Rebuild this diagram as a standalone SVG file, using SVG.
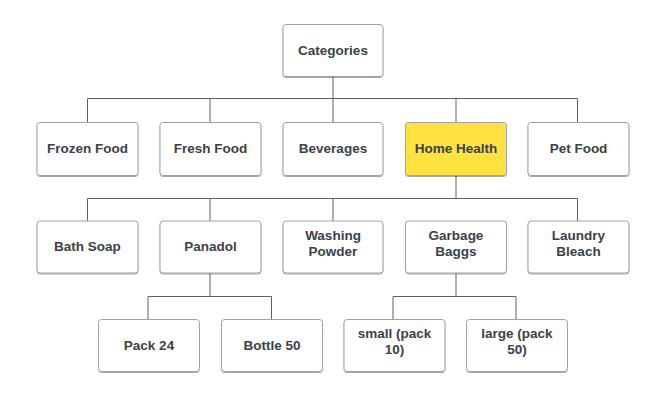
<svg xmlns="http://www.w3.org/2000/svg" width="667" height="405" viewBox="0 0 667 405">
<defs>
<filter id="sh" x="-10%" y="-10%" width="120%" height="130%">
<feDropShadow dx="0" dy="1" stdDeviation="0.6" flood-color="#000" flood-opacity="0.35"/>
</filter>
<style>
.box{fill:#ffffff;stroke:#9fa3a9;stroke-width:1;filter:url(#sh)}
.hl{fill:#ffe13f}
.t{font-family:"Liberation Sans",Arial,sans-serif;font-weight:bold;font-size:13.5px;fill:#3a414a;text-anchor:middle}
.c{fill:none;stroke:#5f6166;stroke-width:1}
</style>
</defs>
<rect width="667" height="405" fill="#ffffff"/>
<g id="connectors">
<path class="c" d="M333 77V98.5M87.5 98.5H577.5M87.5 98.5V123M210 98.5V123M333 98.5V123M456 98.5V123M577.5 98.5V123"/>
<path class="c" d="M456 175V198.5M87.5 198.5H577.5M87.5 198.5V221M210 198.5V221M333 198.5V221M577.5 198.5V221"/>
<path class="c" d="M210 273V296.5M148 296.5H271.5M148 296.5V319M271.5 296.5V319"/>
<path class="c" d="M456 273V296.5M393 296.5H516M393 296.5V319M516 296.5V319"/>
</g>
<g id="n-categories"><rect class="box" x="283" y="24.5" width="100" height="52" rx="3"/><text class="t" x="333" y="54.5">Categories</text></g>
<g id="n-frozen"><rect class="box" x="37" y="122.5" width="101" height="53" rx="3"/><text class="t" x="87.5" y="152.5">Frozen Food</text></g>
<g id="n-fresh"><rect class="box" x="160" y="122.5" width="101" height="53" rx="3"/><text class="t" x="210.5" y="152.5">Fresh Food</text></g>
<g id="n-beverages"><rect class="box" x="283" y="122.5" width="100" height="53" rx="3"/><text class="t" x="333" y="152.5">Beverages</text></g>
<g id="n-homehealth"><rect class="box hl" x="405.5" y="122.5" width="101" height="53" rx="3"/><text class="t" x="456" y="152.5">Home Health</text></g>
<g id="n-petfood"><rect class="box" x="528" y="122.5" width="101" height="53" rx="3"/><text class="t" x="578.5" y="152.5">Pet Food</text></g>
<g id="n-bathsoap"><rect class="box" x="37" y="221" width="101" height="52" rx="3"/><text class="t" x="87.5" y="250.5">Bath Soap</text></g>
<g id="n-panadol"><rect class="box" x="160" y="221" width="101" height="52" rx="3"/><text class="t" x="210.5" y="250.5">Panadol</text></g>
<g id="n-washing"><rect class="box" x="283" y="221" width="100" height="52" rx="3"/><text class="t" x="333" y="239.5">Washing</text><text class="t" x="333" y="255.5">Powder</text></g>
<g id="n-garbage"><rect class="box" x="405.5" y="221" width="101" height="52" rx="3"/><text class="t" x="456" y="239.5">Garbage</text><text class="t" x="456" y="255.5">Baggs</text></g>
<g id="n-laundry"><rect class="box" x="528" y="221" width="101" height="52" rx="3"/><text class="t" x="578.5" y="239.5">Laundry</text><text class="t" x="578.5" y="255.5">Bleach</text></g>
<g id="n-pack24"><rect class="box" x="98.5" y="319.5" width="101" height="52" rx="3"/><text class="t" x="149" y="349.5">Pack 24</text></g>
<g id="n-bottle50"><rect class="box" x="221.5" y="319.5" width="101" height="52" rx="3"/><text class="t" x="272" y="349.5">Bottle 50</text></g>
<g id="n-small"><rect class="box" x="344" y="319.5" width="101" height="52" rx="3"/><text class="t" x="394.5" y="337.5">small (pack</text><text class="t" x="394.5" y="353.5">10)</text></g>
<g id="n-large"><rect class="box" x="466.5" y="319.5" width="101" height="52" rx="3"/><text class="t" x="517" y="337.5">large (pack</text><text class="t" x="517" y="353.5">50)</text></g>
</svg>
